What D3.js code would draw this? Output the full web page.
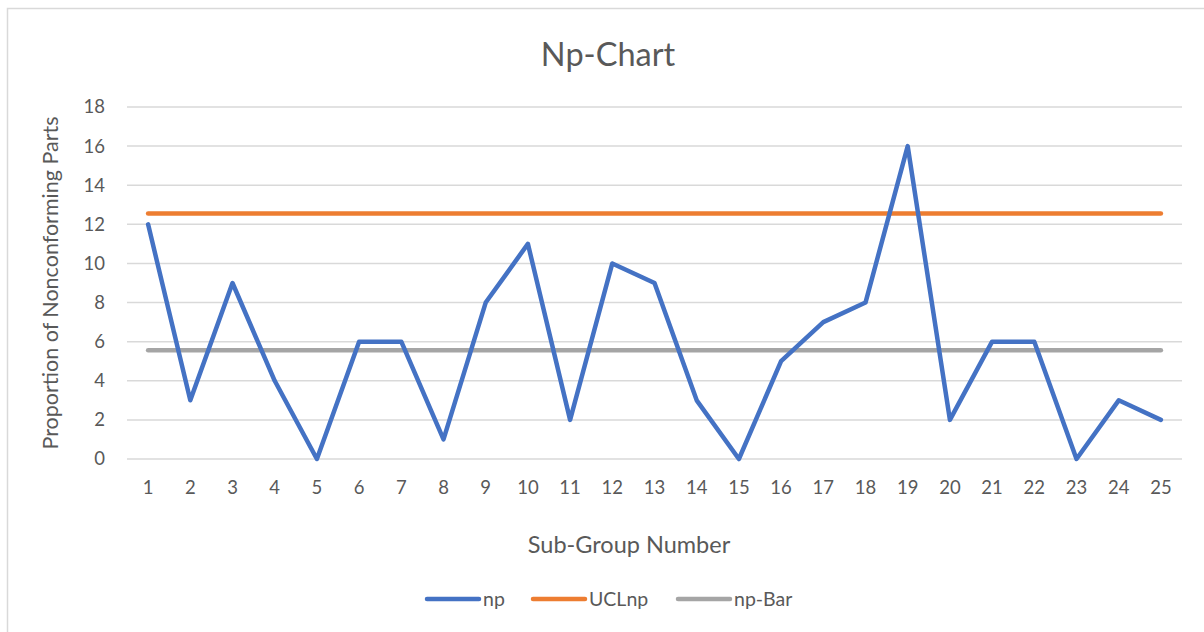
<!DOCTYPE html>
<html><head><meta charset="utf-8">
<script src="https://cdn.jsdelivr.net/npm/d3@7"></script>
<style>
body{margin:0;background:#fff;}
text{font-family:Lato,"Open Sans",sans-serif;fill:#595959;}
</style></head>
<body><svg id="c" width="1204" height="632"></svg>
<script>
const categories = d3.range(1,26).map(String);
const npValues = [12,3,9,4,0,6,6,1,8,11,2,10,9,3,0,5,7,8,16,2,6,6,0,3,2];
const uclValue = 12.56;
const npBarValue = 5.56;
const yTicks = [0,2,4,6,8,10,12,14,16,18];
const seriesNames = ["np","UCLnp","np-Bar"];
const seriesColors = ["#4472C4","#ED7D31","#A5A5A5"];

(function(){
const svg = d3.select("#c");
svg.append("rect").attr("x",7.5).attr("y",8.5).attr("width",1210).attr("height",640)
  .attr("fill","none").attr("stroke","#d9d9d9").attr("stroke-width",1.5);

const pLeft=127, pRight=1182, pTop=107, pBottom=459;
const x = d3.scaleBand().domain(categories).range([pLeft,pRight]);
const y = d3.scaleLinear().domain([0,18]).range([pBottom,pTop]);
const cx = c => x(c)+x.bandwidth()/2;

svg.append("g").selectAll("line").data(yTicks).join("line")
  .attr("x1",pLeft).attr("x2",pRight).attr("y1",d=>y(d)).attr("y2",d=>y(d))
  .attr("stroke","#d9d9d9").attr("stroke-width",1.5);

const yAxis = d3.axisLeft(y).tickValues(yTicks).tickSize(0).tickPadding(0);
const gy = svg.append("g").attr("transform",`translate(${pLeft-22},0)`).call(yAxis);
gy.select(".domain").remove();
gy.selectAll("text").attr("font-size",18.5).style("fill","#595959").attr("font-family","Lato,'Open Sans',sans-serif");

const xAxis = d3.axisBottom(x).tickSize(0).tickPadding(0);
const gx = svg.append("g").attr("transform",`translate(0,${pBottom+22})`).call(xAxis);
gx.select(".domain").remove();
gx.selectAll("text").attr("font-size",18.5).style("fill","#595959").attr("font-family","Lato,'Open Sans',sans-serif");

const line = d3.line().x((d,i)=>cx(categories[i])).y(d=>y(d));
const lw = 4.5;
svg.append("path").datum(categories.map(()=>uclValue)).attr("d",line)
  .attr("fill","none").attr("stroke",seriesColors[1]).attr("stroke-width",lw).attr("stroke-linecap","round").attr("stroke-linejoin","round");
svg.append("path").datum(categories.map(()=>npBarValue)).attr("d",line)
  .attr("fill","none").attr("stroke",seriesColors[2]).attr("stroke-width",lw).attr("stroke-linecap","round").attr("stroke-linejoin","round");
svg.append("path").datum(npValues).attr("d",line)
  .attr("fill","none").attr("stroke",seriesColors[0]).attr("stroke-width",lw).attr("stroke-linecap","round").attr("stroke-linejoin","round");

svg.append("text").attr("x",608).attr("y",66).attr("text-anchor","middle")
  .attr("font-size",32.5).text("Np-Chart");
svg.append("text").attr("x",629).attr("y",553).attr("text-anchor","middle")
  .attr("font-size",23.5).text("Sub-Group Number");
svg.append("text").attr("transform","translate(58,283) rotate(-90)").attr("text-anchor","middle")
  .attr("font-size",21.5).text("Proportion of Nonconforming Parts");

const legendX = [425,531,676];
const lg = svg.append("g");
seriesNames.forEach((n,i)=>{
  lg.append("line").attr("x1",legendX[i]+2).attr("x2",legendX[i]+54).attr("y1",599).attr("y2",599)
    .attr("stroke",seriesColors[i]).attr("stroke-width",lw).attr("stroke-linecap","round");
  lg.append("text").attr("x",legendX[i]+58).attr("y",606).attr("font-size",19.5).text(n);
});
})();
</script></body></html>
